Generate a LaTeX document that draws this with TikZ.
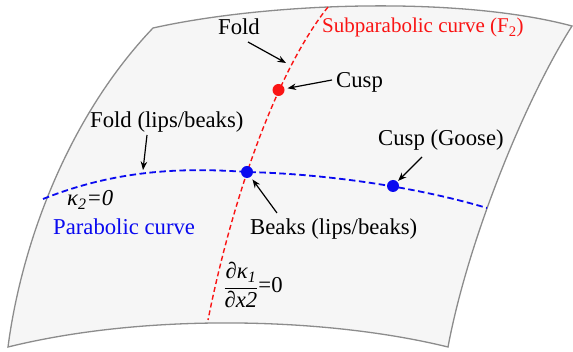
\documentclass[tikz,border=0pt]{standalone}
\usepackage{fontspec}
\setmainfont{Liberation Serif}
\newfontfamily\tnr{Liberation Serif}
\usetikzlibrary{arrows.meta}
\definecolor{surf}{RGB}{246,246,246}
\definecolor{edgegray}{RGB}{140,140,140}
\definecolor{myred}{RGB}{250,20,20}
\definecolor{myblue}{RGB}{10,10,240}
\begin{document}
\begin{tikzpicture}[x=1pt,y=-1pt,
  lbl/.style={inner sep=0pt, font=\tnr\fontsize{22.7}{27}\selectfont},
  redlbl/.style={inner sep=0pt, text=myred, font=\tnr\fontsize{21}{25}\selectfont},
  arr/.style={-{Stealth[length=8.5pt,width=6.5pt]}, line width=1.2pt, black},
  dotnode/.style={circle, inner sep=0pt, minimum size=12pt},
  reddash/.style={myred, line width=1.4pt, dash pattern=on 5pt off 3pt},
  bluedash/.style={myblue, line width=1.8pt, dash pattern=on 6.5pt off 3.5pt}]
\useasboundingbox (0,0) rectangle (573,352);
\fill[white] (0,0) rectangle (573,352);
% surface patch
\filldraw[fill=surf, draw=edgegray, line width=1.3pt]
  (153,28) .. controls (270,2) and (460,-4) .. (572,26)
  .. controls (525,100) and (468,240) .. (448,347)
  .. controls (330,318) and (150,312) .. (8,347)
  .. controls (22,240) and (70,115) .. (153,28) -- cycle;
% key points
\coordinate (cuspc) at (278.5,90);
\coordinate (beaksc) at (247,172);
\coordinate (goosec) at (393,186);
\coordinate (rtop) at (328,7);
\coordinate (rbot) at (208,320);
\coordinate (bleft) at (43,199);
\coordinate (bright) at (487,208);
% curves
\draw[reddash] (rtop) .. controls (276,72) and (232,200) .. (rbot);
\draw[bluedash] (bleft) .. controls (120,168) and (190,168) .. (beaksc)
  .. controls (330,174) and (420,188) .. (bright);
% dots
\node[dotnode, fill=myred] (cuspdot) at (cuspc) {};
\node[dotnode, fill=myblue] (beaksdot) at (beaksc) {};
\node[dotnode, fill=myblue] (goosedot) at (goosec) {};
% labels
\node[lbl, anchor=base west] (foldlbl) at (218,35) {Fold};
\node[redlbl, anchor=base west] (sublbl) at (322,33) {Subparabolic curve (F\textsubscript{2})};
\node[lbl, anchor=base west] (cusplbl) at (336,88) {Cusp};
\node[lbl, anchor=base west] (foldlblb) at (90,128) {Fold (lips/beaks)};
\node[lbl, anchor=base west] (gooselbl) at (378,146) {Cusp (Goose)};
\node[lbl, anchor=base west] (beakslbl) at (250,235) {Beaks (lips/beaks)};
\node[lbl, anchor=base west, text=myblue] (parlbl) at (53,235) {Parabolic curve};
\node[lbl, anchor=base west] (kaplbl) at (67,206) {\itshape κ\textsubscript{2}=0};
\node[lbl] (fraclbl) at (253,285) {$\displaystyle\frac{\hbox{\tnr ∂\itshape κ\textsubscript{1}}}{\hbox{\tnr ∂\itshape x2}}\hbox{\tnr =0}$};
% arrows
\coordinate (foldS) at (248,42);
\coordinate (foldT) at (286,63);
\coordinate (cuspS) at (332,80);
\coordinate (flS) at (147,135);
\coordinate (flT) at (143,170);
\coordinate (gooseS) at (422,157);
\coordinate (beaksS) at (277,213);
\draw[arr] (foldS) -- (foldT);
\draw[arr, shorten >=3pt] (cuspS) -- (cuspdot);
\draw[arr] (flS) -- (flT);
\draw[arr, shorten >=1pt] (gooseS) -- (goosedot);
\draw[arr, shorten >=3pt] (beaksS) -- (beaksdot);
\end{tikzpicture}
\end{document}
